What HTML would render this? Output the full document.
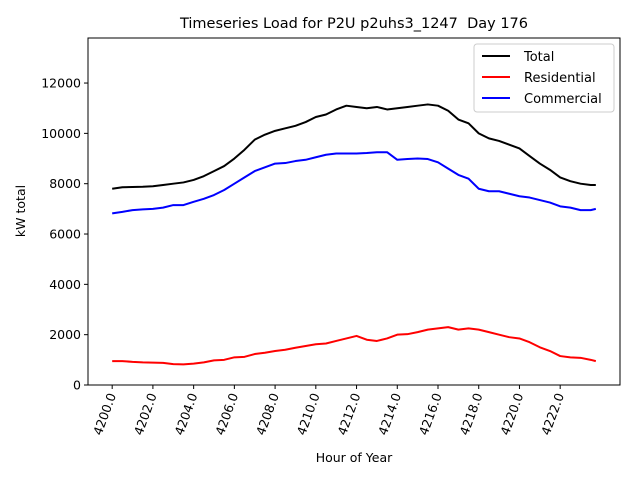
<!DOCTYPE html>
<html><head><meta charset="utf-8">
<style>body{margin:0;background:#fff}svg{display:block;font-family:"DejaVu Sans","Liberation Sans",sans-serif}</style>
</head><body>
<svg id="chart" width="640" height="480" viewBox="0 0 640 480">
<rect width="640" height="480" fill="#fff"/>
<text x="354" y="28" font-size="14.5" text-anchor="middle">Timeseries Load for P2U p2uhs3_1247&#160; Day 176</text>
<text x="354" y="462" font-size="12.5" text-anchor="middle">Hour of Year</text>
<text x="25" y="211" font-size="12.5" text-anchor="middle" transform="rotate(-90 25 211)">kW total</text>
<g id="ticks"></g>
<g id="series"></g>
<rect x="88" y="38" width="532" height="347" fill="none" stroke="#000" stroke-width="1"/>
<g>
<rect x="474" y="44" width="140" height="68" rx="3" fill="#fff" fill-opacity="0.8" stroke="#ccc"/>
<line x1="482" y1="56" x2="510" y2="56" stroke="#000" stroke-width="2"/><text x="524" y="61" font-size="13">Total</text>
<line x1="482" y1="77" x2="510" y2="77" stroke="#f00" stroke-width="2"/><text x="524" y="82" font-size="13">Residential</text>
<line x1="482" y1="98" x2="510" y2="98" stroke="#00f" stroke-width="2"/><text x="524" y="103" font-size="13">Commercial</text>
</g>
</svg>
<script>
const hours=[];for(let h=4200;h<=4223.5;h+=0.5)hours.push(h);hours.push(4223.75);
const totalLoad=[7800,7860,7870,7880,7900,7950,8000,8050,8150,8300,8500,8700,9000,9350,9750,9950,10100,10200,10300,10450,10650,10750,10950,11100,11050,11000,11050,10950,11000,11050,11100,11150,11100,10900,10550,10400,10000,9800,9700,9550,9400,9100,8800,8550,8250,8100,8000,7950,7950];
const commercialLoad=[6820,6880,6950,6980,7000,7050,7150,7150,7280,7400,7550,7750,8000,8250,8500,8650,8800,8820,8900,8950,9050,9150,9200,9200,9200,9220,9250,9250,8950,8980,9000,8980,8850,8600,8350,8200,7800,7700,7700,7600,7500,7450,7350,7250,7100,7050,6950,6950,7000];
const residentialLoad=[950,950,920,900,890,880,830,820,850,900,980,1000,1100,1120,1230,1280,1350,1400,1480,1550,1620,1650,1750,1850,1950,1800,1750,1850,2000,2020,2100,2200,2250,2300,2200,2250,2200,2100,2000,1900,1850,1700,1500,1350,1150,1100,1080,1000,950];
const xTicks=[4200,4202,4204,4206,4208,4210,4212,4214,4216,4218,4220,4222];
const yTicks=[0,2000,4000,6000,8000,10000,12000];
const NS="http://www.w3.org/2000/svg";
const L=88,R=620,T=38,B=385,x0=4198.8125,x1=4224.9375,y0=0,y1=13790;
const sx=v=>L+(v-x0)/(x1-x0)*(R-L);
const sy=v=>B-(v-y0)/(y1-y0)*(B-T);
function mk(t,a,p){const e=document.createElementNS(NS,t);for(const k in a)e.setAttribute(k,a[k]);p.appendChild(e);return e;}
const tg=document.getElementById('ticks');
xTicks.forEach(v=>{const x=sx(v);
const l=mk('line',{x1:x,x2:x,y1:B,y2:B+4,stroke:'#000'},tg);


const t=mk('text',{x:x+4,y:B+10,'font-size':12.5,'text-anchor':'end',transform:`rotate(-70 ${x+4} ${B+10})`},tg);t.textContent=v.toFixed(1);

});
yTicks.forEach(v=>{const y=sy(v);
const l=mk('line',{x1:L-4,x2:L,y1:y,y2:y,stroke:'#000'},tg);


const t=mk('text',{x:L-7,y:y+4.5,'font-size':12.5,'text-anchor':'end'},tg);t.textContent=v;

});
const sg=document.getElementById('series');
[[totalLoad,'#000','total-line'],[residentialLoad,'#f00','residential-line'],[commercialLoad,'#00f','commercial-line']].forEach(([d,c,n])=>{
const p=mk('polyline',{points:d.map((v,i)=>sx(hours[i])+','+sy(v)).join(' '),fill:'none',stroke:c,'stroke-width':2,'stroke-linejoin':'round'},sg);

});
</script>
</body></html>
